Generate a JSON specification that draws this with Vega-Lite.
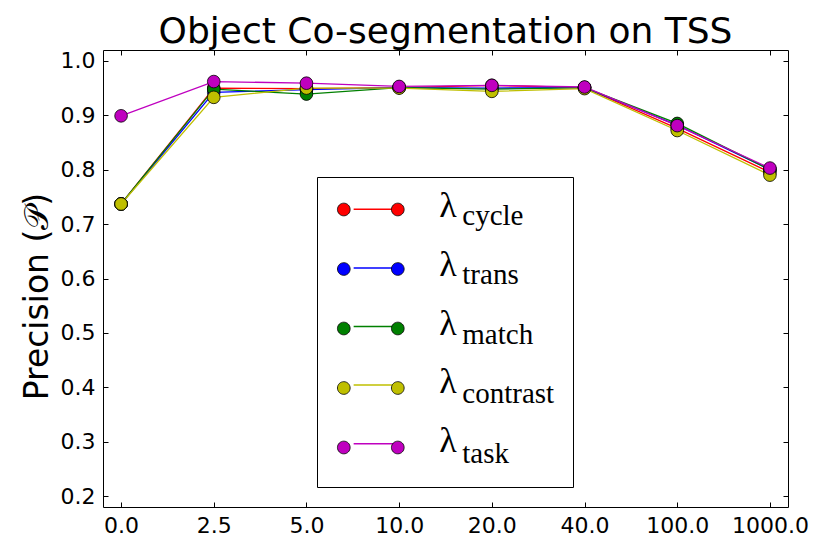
{
  "$schema": "https://vega.github.io/schema/vega-lite/v6.json",
  "width": 685,
  "height": 457,
  "autosize": "none",
  "padding": {"left": 103, "top": 50, "right": 42, "bottom": 47},
  "background": "white",
  "title": {"text": "Object Co-segmentation on TSS", "fontSize": 36, "font": "DejaVu Sans", "fontWeight": "normal", "color": "black", "anchor": "middle", "frame": "group", "baseline": "bottom", "offset": -37},
  "data": {"values": [
    {"lam": "0.0", "series": "cycle", "p": 0.737},
    {"lam": "2.5", "series": "cycle", "p": 0.950},
    {"lam": "5.0", "series": "cycle", "p": 0.949},
    {"lam": "10.0", "series": "cycle", "p": 0.951},
    {"lam": "20.0", "series": "cycle", "p": 0.955},
    {"lam": "40.0", "series": "cycle", "p": 0.951},
    {"lam": "100.0", "series": "cycle", "p": 0.876},
    {"lam": "1000.0", "series": "cycle", "p": 0.795},
    {"lam": "0.0", "series": "trans", "p": 0.737},
    {"lam": "2.5", "series": "trans", "p": 0.942},
    {"lam": "5.0", "series": "trans", "p": 0.947},
    {"lam": "10.0", "series": "trans", "p": 0.951},
    {"lam": "20.0", "series": "trans", "p": 0.950},
    {"lam": "40.0", "series": "trans", "p": 0.951},
    {"lam": "100.0", "series": "trans", "p": 0.882},
    {"lam": "1000.0", "series": "trans", "p": 0.800},
    {"lam": "0.0", "series": "match", "p": 0.737},
    {"lam": "2.5", "series": "match", "p": 0.948},
    {"lam": "5.0", "series": "match", "p": 0.939},
    {"lam": "10.0", "series": "match", "p": 0.951},
    {"lam": "20.0", "series": "match", "p": 0.948},
    {"lam": "40.0", "series": "match", "p": 0.951},
    {"lam": "100.0", "series": "match", "p": 0.885},
    {"lam": "1000.0", "series": "match", "p": 0.800},
    {"lam": "0.0", "series": "contrast", "p": 0.737},
    {"lam": "2.5", "series": "contrast", "p": 0.933},
    {"lam": "5.0", "series": "contrast", "p": 0.950},
    {"lam": "10.0", "series": "contrast", "p": 0.950},
    {"lam": "20.0", "series": "contrast", "p": 0.944},
    {"lam": "40.0", "series": "contrast", "p": 0.949},
    {"lam": "100.0", "series": "contrast", "p": 0.872},
    {"lam": "1000.0", "series": "contrast", "p": 0.790},
    {"lam": "0.0", "series": "task", "p": 0.899},
    {"lam": "2.5", "series": "task", "p": 0.962},
    {"lam": "5.0", "series": "task", "p": 0.959},
    {"lam": "10.0", "series": "task", "p": 0.953},
    {"lam": "20.0", "series": "task", "p": 0.955},
    {"lam": "40.0", "series": "task", "p": 0.952},
    {"lam": "100.0", "series": "task", "p": 0.881},
    {"lam": "1000.0", "series": "task", "p": 0.803}
  ]},
  "layer": [
    {
      "mark": {"type": "line", "strokeWidth": 1.3},
      "encoding": {
        "x": {"field": "lam", "type": "ordinal", "sort": ["0.0","2.5","5.0","10.0","20.0","40.0","100.0","1000.0"],
              "scale": {"type": "point", "padding": 0.195},
              "axis": {"orient": "bottom", "title": null, "labelAngle": 0, "labelFont": "DejaVu Sans", "labelFontSize": 22, "labelColor": "black", "labelPadding": 13, "tickSize": -5, "tickColor": "black", "domain": false, "grid": false}},
        "y": {"field": "p", "type": "quantitative",
              "scale": {"domain": [0.18, 1.02], "nice": false, "zero": false},
              "axis": {"orient": "left", "title": "Precision (𝒫)", "titleFont": "DejaVu Sans", "titleFontSize": 33, "titleFontWeight": "normal", "titleColor": "black", "titlePadding": 6, "titleY": 246,
                       "values": [0.2,0.3,0.4,0.5,0.6,0.7,0.8,0.9,1.0], "format": ".1f", "labelFont": "DejaVu Sans", "labelFontSize": 22, "labelColor": "black", "labelPadding": 13, "tickSize": -5, "tickColor": "black", "domain": false, "grid": false}},
        "color": {"field": "series", "type": "nominal",
                  "scale": {"domain": ["cycle","trans","match","contrast","task"], "range": ["#ff0000","#0000ff","#008000","#bfbf00","#bf00bf"]},
                  "legend": {"orient": "none", "legendX": 232, "legendY": 141.3, "title": null, "labelExpr": "'λ'", "labelFont": "Liberation Serif", "labelFontSize": 36, "labelColor": "black",
                             "symbolType": "M -1.843 0 L 1.843 0", "symbolSize": 502, "symbolStrokeWidth": 1.5, "symbolOffset": 21.3, "labelOffset": 47, "rowPadding": 22.6, "padding": 0,
                             "encode": {"labels": {"update": {"dy": {"value": -3}}}}}},
        "order": {"value": null}
      }
    },
    {
      "mark": {"type": "point", "filled": true, "shape": "circle", "size": 160, "stroke": "black", "strokeWidth": 0.8, "opacity": 1},
      "encoding": {
        "x": {"field": "lam", "type": "ordinal", "sort": ["0.0","2.5","5.0","10.0","20.0","40.0","100.0","1000.0"],
              "scale": {"type": "point", "padding": 0.195},
              "axis": {"orient": "top", "title": null, "labels": false, "tickSize": -5, "tickColor": "black", "domain": false, "grid": false}},
        "y": {"field": "p", "type": "quantitative",
              "scale": {"domain": [0.18, 1.02], "nice": false, "zero": false},
              "axis": {"orient": "right", "title": null, "labels": false, "values": [0.2,0.3,0.4,0.5,0.6,0.7,0.8,0.9,1.0], "tickSize": -5, "tickColor": "black", "domain": false, "grid": false}},
        "fill": {"field": "series", "type": "nominal", "sort": ["cycle","trans","match","contrast","task"],
                 "scale": {"range": ["#ff0000","#0000ff","#008000","#bfbf00","#bf00bf"]},
                 "legend": {"orient": "none", "legendX": 214, "legendY": 127, "title": null, "strokeColor": "black", "padding": 18,
                            "labelFont": "Liberation Serif", "labelFontSize": 29, "labelColor": "black", "labelBaseline": "alphabetic",
                            "symbolType": "M -1.843 0 A 0.567 0.567 0 1 0 -2.977 0 A 0.567 0.567 0 1 0 -1.843 0 Z M 2.977 0 A 0.567 0.567 0 1 0 1.843 0 A 0.567 0.567 0 1 0 2.977 0 Z",
                            "symbolSize": 502, "symbolStrokeColor": "black", "symbolStrokeWidth": 0.8, "symbolOpacity": 1, "symbolOffset": 21.3, "labelOffset": 77, "rowPadding": 23.5,
                            "encode": {"labels": {"update": {"dy": {"value": 15}}}}}}
      }
    }
  ],
  "resolve": {"axis": {"x": "independent", "y": "independent"}},
  "config": {
    "view": {"stroke": "black", "strokeWidth": 1},
    "axis": {"tickWidth": 1}
  }
}
